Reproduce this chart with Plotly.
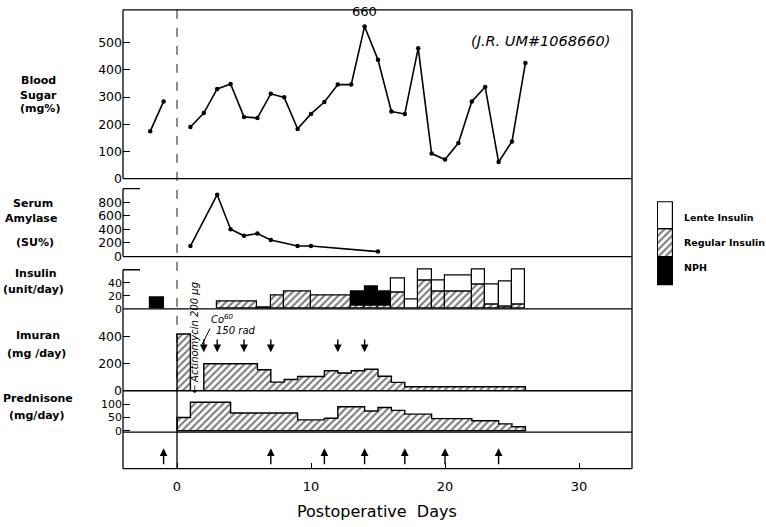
import plotly.graph_objects as go

W, H = 766, 527

# ---------------- data ----------------
bs_pre_days = [-2, -1]
bs_pre = [174, 284]
bs_days = list(range(1, 27))
bs_values = [190, 241, 330, 348, 227, 223, 312, 299, 183, 238, 282, 346, 346,
             560, 437, 247, 238, 480, 92, 70, 131, 284, 337, 61, 137, 425]
bs_peak_day = 14
bs_peak_label = "660"

amy_days = [1, 3, 4, 5, 6, 7, 9, 10, 15]
amylase = [155, 911, 403, 305, 339, 243, 155, 155, 73]

ins_start = [-2, 3, 6, 7, 8, 10, 13, 14, 15, 16, 17, 18, 19, 20, 22, 23, 24, 25]
ins_end = [-1, 6, 7, 8, 10, 13, 14, 15, 16, 17, 18, 19, 20, 22, 23, 24, 25, 26]
ins_regular = [0, 11, 2, 20, 26, 20, 5, 5, 5, 25, 0, 44, 27, 27, 37, 6, 4, 6]
ins_nph = [17, 0, 0, 0, 0, 0, 21, 29, 21, 0, 0, 0, 0, 0, 0, 0, 0, 0]
ins_lente = [0, 0, 0, 0, 0, 0, 0, 0, 0, 21, 14, 16, 16, 24, 23, 31, 38, 54]

im_start = [0, 2, 6, 7, 8, 9, 11, 12, 13, 14, 15, 16, 17]
im_end = [1, 6, 7, 8, 9, 11, 12, 13, 14, 15, 16, 17, 26]
imuran = [420, 200, 155, 64, 83, 105, 148, 132, 148, 159, 107, 62, 29]
im_arrow_days = [2, 3, 5, 7, 12, 14]

pr_start = [0, 1, 4, 9, 11, 12, 14, 15, 16, 17, 19, 22, 24, 25]
pr_end = [1, 4, 9, 11, 12, 14, 15, 16, 17, 19, 22, 24, 25, 26]
prednisone = [50, 108, 67, 41, 47, 91, 75, 88, 77, 63, 46, 38, 26, 15]

bottom_arrow_days = [-1, 7, 11, 14, 17, 20, 24]

x_ticks = [0, 10, 20, 30]
y_ticks = [[0, 100, 200, 300, 400, 500], [0, 200, 400, 600, 800], [0, 20, 40],
           [0, 200, 400], [0, 50, 100], []]
legend_labels = ["Lente Insulin", "Regular Insulin", "NPH"]

# ---------------- helpers ----------------
def pyp(p):
    return 1 - p / H


def pxp(p):
    return p / W


X_LEFT, X_RIGHT = 123, 632
DAY0_PX, PX_PER_DAY = 177.0, 13.4
x_range = [(X_LEFT - DAY0_PX) / PX_PER_DAY, (X_RIGHT - DAY0_PX) / PX_PER_DAY]

panels = [  # top px, bottom px, y range, tick font size
    (10, 181, [0, 621], 12.5),
    (181, 260, [0, 1148], 12.5),
    (260, 313, [0, 80.3], 11),
    (313, 396, [0, 607], 12.5),
    (396, 438, [-5.6, 151.7], 11),
    (438, 475, [0, 1], 12.5),
]

FONT = "DejaVu Sans"
HATCH = dict(shape="/", fgcolor="black", bgcolor="white", size=5, solidity=0.42)


def step_polygon(starts, ends, vals):
    xs, ys = [], []
    i, n = 0, len(starts)
    while i < n:
        j = i
        xs.append(starts[i]); ys.append(0)
        while True:
            xs += [starts[j], ends[j]]
            ys += [vals[j], vals[j]]
            if j + 1 < n and starts[j + 1] == ends[j]:
                j += 1
            else:
                break
        xs += [ends[j], starts[i], None]
        ys += [0, 0, None]
        i = j + 1
    return xs[:-1], ys[:-1]


fig = go.Figure()

# blood sugar
for dx, dy in [(bs_pre_days, bs_pre), (bs_days, bs_values)]:
    fig.add_trace(go.Scatter(x=dx, y=dy, mode="lines+markers", xaxis="x", yaxis="y",
                             line=dict(color="black", width=1.6),
                             marker=dict(color="black", size=4.5), showlegend=False))

# amylase
fig.add_trace(go.Scatter(x=amy_days, y=amylase, mode="lines+markers", xaxis="x2", yaxis="y2",
                         line=dict(color="black", width=1.6),
                         marker=dict(color="black", size=4.5), showlegend=False))

# insulin stacked bars
def add_ins(vals, bases, marker):
    xs, ws, ys, bs_ = [], [], [], []
    for s, e, v, b in zip(ins_start, ins_end, vals, bases):
        if v > 0:
            xs.append((s + e) / 2); ws.append(e - s); ys.append(v); bs_.append(b)
    fig.add_trace(go.Bar(x=xs, y=ys, width=ws, base=bs_, xaxis="x3", yaxis="y3",
                         marker=marker, showlegend=False))

zero = [0] * len(ins_start)
add_ins(ins_regular, zero, dict(color="white", pattern=HATCH, line=dict(color="black", width=1.2)))
add_ins(ins_nph, ins_regular, dict(color="black", line=dict(color="black", width=1.2)))
add_ins(ins_lente, [r + n for r, n in zip(ins_regular, ins_nph)],
        dict(color="white", line=dict(color="black", width=1.2)))

# imuran & prednisone step areas
for (st, en, vals, xa, ya) in [(im_start, im_end, imuran, "x4", "y4"),
                               (pr_start, pr_end, prednisone, "x5", "y5")]:
    px_, py_ = step_polygon(st, en, vals)
    fig.add_trace(go.Scatter(x=px_, y=py_, mode="lines", fill="toself", xaxis=xa, yaxis=ya,
                             fillcolor="white", fillpattern=HATCH,
                             line=dict(color="black", width=1.4), showlegend=False))

# legend swatch (own small axis)
sw_marks = [dict(color="black"), dict(color="white", pattern=HATCH), dict(color="white")]
for k, mk in enumerate(sw_marks):
    mk = dict(mk, line=dict(color="black", width=1.2))
    fig.add_trace(go.Bar(x=[0.5], y=[1], base=[k], width=[1], xaxis="x7", yaxis="y7",
                         marker=mk, showlegend=False, cliponaxis=False))

layout = dict(width=W, height=H, margin=dict(l=0, r=0, t=0, b=0), autosize=False,
              paper_bgcolor="white", plot_bgcolor="white", barmode="overlay", bargap=0,
              showlegend=False, font=dict(family=FONT, color="black"))

for i, (top, bot, rng, tfs) in enumerate(panels, start=1):
    sfx = "" if i == 1 else str(i)
    layout["xaxis" + sfx] = dict(domain=[pxp(X_LEFT), pxp(X_RIGHT)], range=x_range,
                                 anchor="y" + sfx, showgrid=False, zeroline=False,
                                 showline=False, visible=(i == 6), ticks="inside",
                                 tickvals=x_ticks, ticklen=6, tickwidth=1.2, tickcolor="black",
                                 tickfont=dict(size=13, family=FONT), ticklabelstandoff=8,
                                 fixedrange=True)
    layout["yaxis" + sfx] = dict(domain=[pyp(bot), pyp(top)], range=rng, anchor="x" + sfx,
                                 showgrid=False, zeroline=False, showline=False,
                                 visible=(i != 6), ticks="inside", ticklen=7, tickwidth=1.2,
                                 tickcolor="black", tickvals=y_ticks[i - 1],
                                 tickfont=dict(size=tfs, family=FONT), fixedrange=True)
layout["xaxis7"] = dict(domain=[pxp(657), pxp(674)], range=[-0.06, 1.06], anchor="y7",
                        visible=False, fixedrange=True)
layout["yaxis7"] = dict(domain=[pyp(290), pyp(204)], range=[-0.02, 3.02], anchor="x7",
                        visible=False, fixedrange=True)

# ---------------- frame lines ----------------
LN = dict(color="black", width=1.3)
shapes = []
def pline(x0, y0, x1, y1, **kw):
    shapes.append(dict(type="line", xref="paper", yref="paper", x0=pxp(x0), x1=pxp(x1),
                       y0=pyp(y0), y1=pyp(y1), line=kw.get("line", LN)))

pline(X_LEFT, 10, X_RIGHT, 10)
pline(X_RIGHT, 10, X_RIGHT, 475)
for yy in [181, 260, 313, 396, 438, 475]:
    pline(X_LEFT, yy, X_RIGHT, yy)
pline(X_LEFT, 10, X_LEFT, 181)
pline(X_LEFT, 313, X_LEFT, 475)
for yref, top_val in [("y2", 1000), ("y3", 60)]:
    shapes.append(dict(type="line", xref="paper", yref=yref, x0=pxp(X_LEFT), x1=pxp(X_LEFT),
                       y0=0, y1=top_val, line=LN))
    shapes.append(dict(type="line", xref="paper", yref=yref, x0=pxp(X_LEFT), x1=pxp(X_LEFT + 17),
                       y0=top_val, y1=top_val, line=LN))
# day-0 line
shapes.append(dict(type="line", xref="x6", yref="paper", x0=0, x1=0, y0=pyp(10), y1=pyp(396),
                   line=dict(color="black", width=0.9, dash="dash")))
shapes.append(dict(type="line", xref="x6", yref="paper", x0=0, x1=0, y0=pyp(396), y1=pyp(475),
                   line=dict(color="black", width=1.3)))
# Co60 leader line
pline(202, 349, 210, 333, line=dict(color="black", width=1))
layout["shapes"] = shapes

# ---------------- annotations ----------------
ann = []
def ptext(x, y, text, size=11, bold=False, italic=False, xanchor="center", angle=0):
    t = text
    if bold:
        t = "<b>" + t + "</b>"
    if italic:
        t = "<i>" + t + "</i>"
    ann.append(dict(xref="paper", yref="paper", x=pxp(x), y=pyp(y), text=t, showarrow=False,
                    xanchor=xanchor, yanchor="middle", textangle=angle,
                    font=dict(size=size, family=FONT, color="black")))

for x, y, t in [(38, 82, "Blood"), (38, 97, "Sugar"), (40, 110, "(mg%)"),
                (33, 206, "Serum"), (31, 221, "Amylase"), (35, 246, "(SU%)"),
                (36, 277, "Insulin"), (33, 293, "(unit/day)"),
                (38, 340, "Imuran"), (36, 358, "(mg /day)"),
                (38, 404, "Prednisone"), (37, 421, "(mg/day)")]:
    ptext(x, y, t, size=11, bold=True)

ptext(540, 42, "(J.R. UM#1068660)", size=14.5, italic=True)
ptext(377, 518, "Postoperative  Days", size=16)
ptext(194, 343, "← Actinomycin 200 µg", size=10, italic=True, angle=-90)
ptext(209, 323, "Co<sup>60</sup>", size=10, italic=True, xanchor="left")
ptext(214, 335, "150 rad", size=10, italic=True, xanchor="left")
for k, lab in enumerate(legend_labels):
    ptext(682, [220, 246, 271][k], lab, size=9.5, bold=True, xanchor="left")

ann.append(dict(xref="x", yref="y", x=bs_peak_day, y=bs_values[bs_days.index(bs_peak_day)],
                text=bs_peak_label, showarrow=False, yshift=15, yanchor="middle",
                font=dict(size=13, family=FONT, color="black")))

for d in im_arrow_days:
    ann.append(dict(xref="x4", yref="y4", axref="x4", ayref="y4", x=d, y=285, ax=d, ay=390,
                    text="", showarrow=True, arrowhead=2, arrowsize=1.1, arrowwidth=1.4,
                    arrowcolor="black"))
for d in bottom_arrow_days:
    ann.append(dict(xref="x6", yref="y6", axref="x6", ayref="y6", x=d, y=0.56, ax=d, ay=0.08,
                    text="", showarrow=True, arrowhead=2, arrowsize=1.1, arrowwidth=1.4,
                    arrowcolor="black"))
layout["annotations"] = ann

fig.update_layout(**layout)
fig.write_html("out.html", config=dict(displayModeBar=False))
